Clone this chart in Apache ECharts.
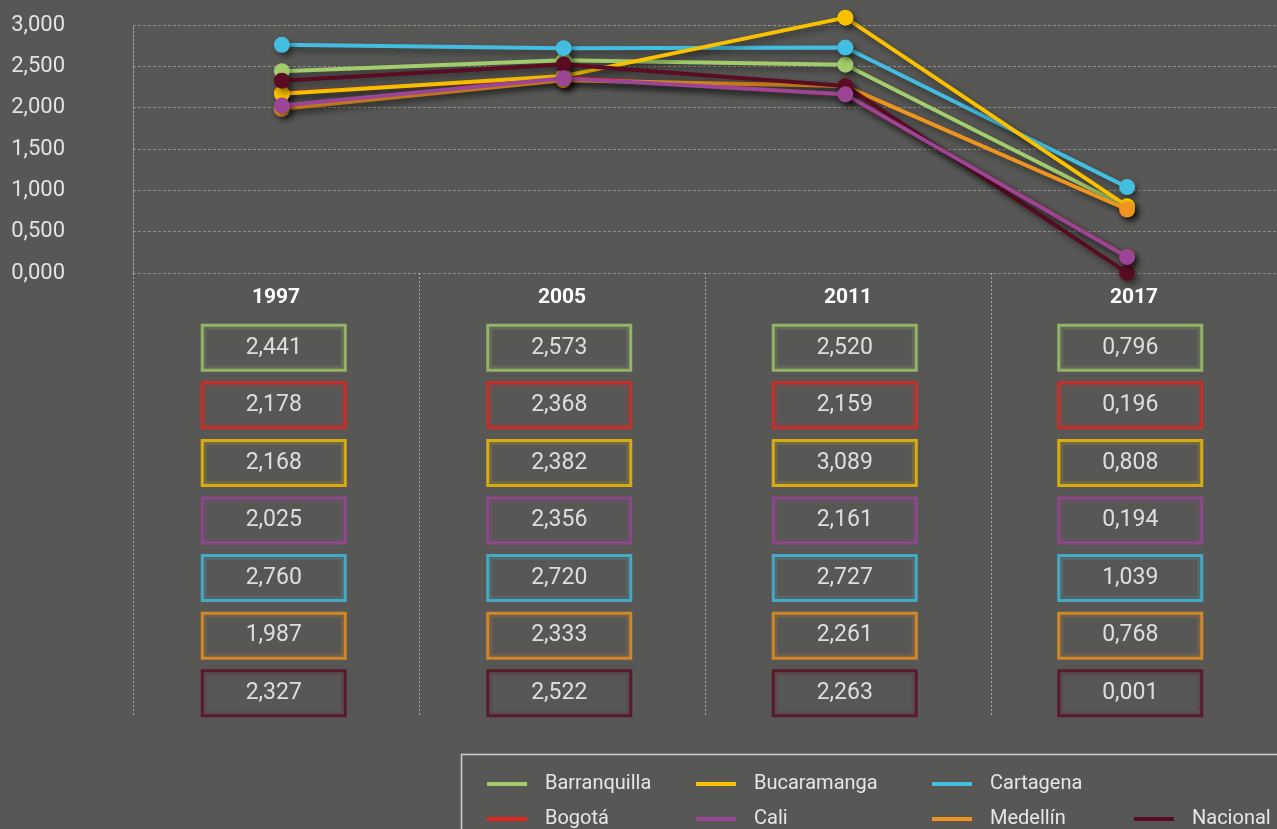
<!DOCTYPE html>
<html>
<head>
<meta charset="utf-8">
<script src="https://cdn.jsdelivr.net/npm/echarts@6/dist/echarts.min.js"></script>
<style>
  html, body { margin: 0; padding: 0; background: #575755; }
  #chart { width: 1277px; height: 829px; }
</style>
</head>
<body>
<div id="chart"></div>
<script>
var years = ['1997', '2005', '2011', '2017'];
var cities = ['Barranquilla', 'Bogotá', 'Bucaramanga', 'Cali', 'Cartagena', 'Medellín', 'Nacional'];

var barranquilla = [2.441, 2.573, 2.520, 0.796];
var bogota       = [2.178, 2.368, 2.159, 0.196];
var bucaramanga  = [2.168, 2.382, 3.089, 0.808];
var cali         = [2.025, 2.356, 2.161, 0.194];
var cartagena    = [2.760, 2.720, 2.727, 1.039];
var medellin     = [1.987, 2.333, 2.261, 0.768];
var nacional     = [2.327, 2.522, 2.263, 0.001];

var values = [barranquilla, bogota, bucaramanga, cali, cartagena, medellin, nacional];
var colors = ['#a3cc6c', '#e42621', '#f9c100', '#9b4596', '#43bde0', '#ee941f', '#5a0c22'];
// order lines are stacked in (lowest first)
var zRank = [1, 0, 3, 6, 2, 4, 5];

function fmt(v) { return v.toFixed(3).replace('.', ','); }

var myChart = echarts.init(document.getElementById('chart'));

var series = [];
cities.forEach(function (name, i) {
  series.push({
    name: name,
    type: 'line',
    xAxisIndex: 3, yAxisIndex: 3,
    data: values[i],
    color: colors[i],
    z: 10 + zRank[i],
    clip: false,
    symbol: 'circle',
    symbolSize: 16,
    lineStyle: { width: 4, color: colors[i], shadowBlur: 6, shadowColor: 'rgba(0,0,0,0.45)', shadowOffsetX: 3, shadowOffsetY: 4 },
    itemStyle: { color: colors[i], shadowBlur: 6, shadowColor: 'rgba(0,0,0,0.45)', shadowOffsetX: 3, shadowOffsetY: 4 },
    emphasis: { disabled: true }
  });
});
// value boxes below the chart (label box = the framed cell)
cities.forEach(function (name, i) {
  series.push({
    name: 'tabla ' + name,
    type: 'scatter',
    xAxisIndex: 2, yAxisIndex: 2,
    symbolSize: 0,
    data: values[i].map(function (v, j) { return [years[j], name, v]; }),
    encode: { x: 0, y: 1 },
    label: {
      show: true, position: 'inside',
      color: '#ffffff', fontSize: 23, fontFamily: 'Roboto',
      width: 140, height: 42, lineHeight: 42, padding: 0,
      align: 'center', verticalAlign: 'middle',
      borderColor: colors[i], borderWidth: 3,
      backgroundColor: '#585856',
      formatter: function (p) { return fmt(p.value[2]); }
    },
    emphasis: { disabled: true }
  });
});

function legendItem(name, left, top) {
  return {
    data: [name], left: left, top: top,
    icon: 'rect', itemWidth: 40, itemHeight: 4,
    selectedMode: false,
    textStyle: { color: '#e6e6e6', fontSize: 20, lineHeight: 22, fontFamily: 'Roboto', padding: [0, 0, 0, 13] }
  };
}

myChart.setOption({
  backgroundColor: '#575755',
  animation: false,
  grid: [
    { left: 133, right: 0, top: 25, height: 248 },
    { left: 133, right: 0, top: 273, height: 443 },
    { left: 131, right: 4, top: 319, height: 403 },
    { left: 141, right: 9, top: 25, height: 248 }
  ],
  xAxis: [
    {
      gridIndex: 0, type: 'category', data: years,
      axisLine: { show: false }, axisTick: { show: false },
      axisLabel: { color: '#ffffff', fontSize: 21, fontWeight: 'bold', fontFamily: 'Roboto', margin: 14 }
    },
    {
      gridIndex: 1, type: 'category', data: years,
      axisLine: { show: false }, axisTick: { show: false }, axisLabel: { show: false },
      splitLine: { show: true, lineStyle: { color: '#a8a8a8', type: [2, 2], width: 1 } }
    },
    {
      gridIndex: 2, type: 'category', data: years,
      axisLine: { show: false }, axisTick: { show: false }, axisLabel: { show: false }
    },
    {
      gridIndex: 3, type: 'category', data: years, show: false
    }
  ],
  yAxis: [
    {
      gridIndex: 0, type: 'value', min: 0, max: 3, interval: 0.5,
      axisLine: { show: true, lineStyle: { color: '#a8a8a8', type: [2, 2], width: 1 } },
      axisTick: { show: false },
      axisLabel: { color: '#e2e2e2', fontSize: 22, fontFamily: 'Roboto', margin: 68, formatter: function (v) { return fmt(v); } },
      splitLine: { lineStyle: { color: '#8e8e8c', type: [3, 2], width: 1 } }
    },
    {
      gridIndex: 1, type: 'value', min: 0, max: 1, show: false
    },
    {
      gridIndex: 2, type: 'category', data: cities, inverse: true, show: false
    },
    {
      gridIndex: 3, type: 'value', min: 0, max: 3, show: false
    }
  ],
  legend: [
    legendItem('Barranquilla', 482, 768),
    legendItem('Bogotá', 482, 803),
    legendItem('Bucaramanga', 691, 768),
    legendItem('Cali', 691, 803),
    legendItem('Cartagena', 927, 768),
    legendItem('Medellín', 927, 803),
    legendItem('Nacional', 1129, 803)
  ],
  graphic: [
    { type: 'rect', left: 459, top: 752, shape: { width: 900, height: 200 }, style: { fill: 'none', stroke: '#cfcfcf', lineWidth: 1.5 }, silent: true }
  ],
  series: series
});
</script>
</body>
</html>
